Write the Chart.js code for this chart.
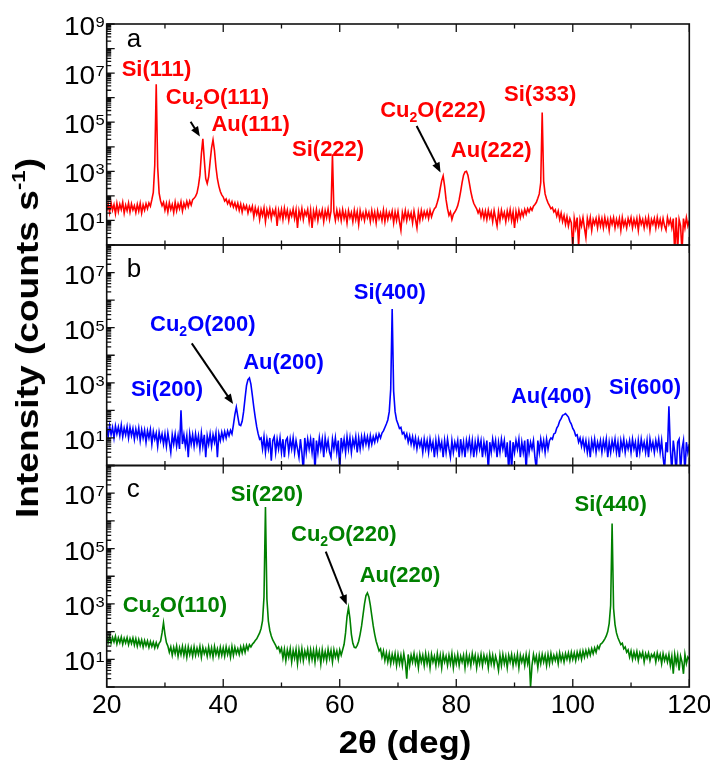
<!DOCTYPE html>
<html lang="en">
<head>
<meta charset="UTF-8">
<title>XRD patterns</title>
<script src="https://cdn.jsdelivr.net/npm/chart.js@4.4.1/dist/chart.umd.min.js"></script>
<style>
  body { margin: 0; background: #fff; width: 710px; height: 762px; position: relative; overflow: hidden;
         font-family: "Liberation Sans", Arial, sans-serif; }
  canvas { position: absolute; left: 0; }
  #ytitle { position: absolute; left: 27px; top: 338px; transform: translate(-50%, -50%) rotate(-90deg) scaleX(1.16);
            font-weight: bold; font-size: 32px; white-space: nowrap; line-height: 1; }
  #ytitle sup { font-size: 60%; vertical-align: 0.7em; line-height: 0; }
  #xtitle { position: absolute; left: 405px; top: 742px; transform: translate(-50%, -50%) scaleX(1.12);
            font-weight: bold; font-size: 31px; white-space: nowrap; line-height: 1; }
</style>
</head>
<body>

<canvas id="panelA" width="710" height="260" style="top:0px"></canvas>
<canvas id="panelB" width="710" height="250" style="top:230px"></canvas>
<canvas id="panelC" width="710" height="311" style="top:451px"></canvas>
<div id="ytitle">Intensity (counts s<sup>-1</sup>)</div>
<div id="xtitle">2θ (deg)</div>

<script>
// 2θ sampling grid, 0.25° steps from 20° to 120°
const twoTheta = Array.from({ length: 401 }, (_, i) => 20 + i * 0.25);

// counts per second, one row = 5°
const intensityA = [
  24, 48, 21, 52, 26, 44, 19, 50, 23, 46, 28, 55, 20, 42, 25, 51, 22, 47, 27, 40,
  21, 45, 24, 50, 20, 43, 26, 48, 30, 52, 38, 70, 140, 1800, 3500000, 1500, 130, 62, 40, 55,
  26, 49, 22, 53, 28, 45, 21, 55, 25, 48, 30, 58, 24, 50, 33, 60, 36, 62, 42, 70,
  80, 95, 130, 260, 700, 5000, 21000, 3000, 500, 320, 600, 2500, 9000, 19000, 7000, 1500, 500, 250, 150, 110,
  90, 62, 75, 48, 66, 40, 58, 35, 52, 30, 50, 26, 46, 22, 42, 28, 40, 20, 36, 24,
  38, 14, 33, 18, 30, 11, 28, 16, 32, 9, 27, 15, 30, 12, 26, 17, 29, 6, 25, 13,
  28, 11, 31, 14, 26, 10, 24, 15, 29, 12, 27, 5, 25, 13, 30, 11, 24, 16, 28, 9,
  26, 5, 24, 12, 28, 10, 23, 14, 27, 9, 25, 13, 29, 11, 24, 4900, 22, 10, 26, 12,
  24, 10, 27, 12, 22, 8, 25, 13, 21, 9, 26, 11, 23, 7, 25, 12, 20, 10, 24, 13,
  21, 9, 25, 11, 22, 8, 24, 12, 20, 10, 26, 9, 23, 11, 21, 13, 24, 8, 22, 10,
  23, 9, 4, 21, 11, 25, 10, 22, 12, 20, 8, 24, 11, 5, 22, 10, 25, 12, 23, 14,
  24, 12, 26, 14, 22, 30, 35, 55, 90, 200, 420, 650, 250, 70, 30, 16, 22, 11, 18, 22,
  28, 40, 70, 150, 350, 700, 950, 1000, 700, 330, 150, 80, 50, 38, 30, 20, 28, 14, 25, 12,
  24, 11, 26, 13, 22, 9, 25, 12, 6, 23, 10, 26, 13, 21, 9, 24, 12, 27, 10, 22,
  5, 23, 11, 26, 13, 24, 15, 28, 18, 30, 22, 33, 26, 38, 45, 55, 80, 120, 350, 250000,
  400, 120, 75, 52, 40, 30, 34, 22, 27, 15, 24, 11, 20, 9, 16, 7, 14, 6, 12, 8,
  0.7, 12, 5, 13, 0.9, 11, 6, 13, 5, 2, 12, 6, 13, 4, 11, 7, 12, 5, 13, 6,
  12, 5, 13, 6, 11, 4, 12, 7, 13, 5, 11, 6, 12, 4, 13, 6, 10, 5, 12, 7,
  13, 5, 11, 6, 12, 4, 13, 7, 11, 5, 12, 6, 13, 4, 11, 7, 12, 5, 13, 6,
  11, 5, 12, 6, 4, 13, 7, 11, 5, 12, 0.5, 13, 0.6, 11, 6, 0.5, 12, 5, 13, 6,
  10
];

const intensityB = [
  26, 11, 28, 13, 24, 10, 27, 14, 25, 12, 29, 11, 23, 13, 26, 10, 24, 12, 22, 9,
  21, 11, 23, 8, 20, 10, 19, 7, 18, 10, 20, 6, 17, 9, 15, 5, 16, 8, 14, 6,
  14, 5, 15, 7, 3, 13, 6, 14, 5, 12, 4, 100, 6, 13, 5, 12, 2, 14, 6, 13,
  5, 14, 6, 12, 4, 15, 5, 13, 2, 12, 6, 14, 5, 13, 7, 15, 2, 14, 8, 16,
  9, 17, 10, 18, 12, 19, 14, 30, 70, 130, 60, 30, 28, 40, 90, 280, 800, 1300, 1500, 900,
  350, 130, 55, 25, 14, 9, 10, 4, 11, 3, 9, 4, 10, 1.5, 8, 11, 3, 9, 4, 10,
  3, 9, 2, 8, 10, 3, 9, 4, 10, 3, 8, 4, 2, 9, 3, 0.6, 10, 3, 9, 4,
  9, 3, 10, 0.6, 8, 3, 10, 4, 9, 2, 10, 4, 8, 3, 2, 9, 4, 10, 3, 8,
  0.7, 10, 4, 9, 3, 11, 4, 10, 3, 9, 5, 11, 3, 10, 4, 11, 5, 12, 6, 11,
  5, 12, 6, 11, 7, 13, 8, 14, 10, 15, 18, 24, 32, 45, 90, 600, 480000, 500, 90, 45,
  32, 22, 24, 14, 16, 10, 14, 7, 12, 6, 11, 5, 10, 4, 9, 5, 8, 3, 9, 4,
  8, 3, 9, 4, 7, 2, 8, 3, 9, 4, 7, 2, 8, 3, 9, 4, 2, 8, 3, 7,
  4, 8, 2, 9, 3, 7, 2, 8, 4, 9, 3, 8, 2, 7, 3, 9, 4, 8, 2, 7,
  3, 8, 0.6, 7, 3, 9, 4, 8, 2, 7, 3, 9, 4, 8, 2, 7, 0.6, 8, 0.7, 7,
  3, 8, 4, 9, 2, 7, 3, 8, 0.6, 9, 3, 7, 4, 8, 2, 0.7, 8, 3, 9, 4,
  8, 3, 9, 4, 8, 10, 9, 14, 15, 23, 28, 41, 50, 66, 70, 76, 66, 57, 40, 32,
  22, 18, 12, 13, 7, 10, 5, 9, 4, 8, 3, 7, 2, 8, 4, 9, 3, 7, 4, 8,
  3, 8, 4, 9, 2, 7, 3, 8, 4, 9, 3, 7, 2, 8, 4, 9, 3, 7, 4, 8,
  3, 9, 4, 7, 2, 8, 3, 9, 4, 7, 3, 8, 2, 9, 4, 7, 3, 8, 4, 9,
  3, 8, 2, 0.7, 7, 3, 140, 4, 0.6, 8, 3, 0.5, 7, 9, 0.6, 4, 8, 0.5, 7, 3,
  6
];

const intensityC = [
  70, 40, 66, 38, 62, 42, 68, 36, 60, 40, 64, 35, 58, 39, 61, 34, 56, 37, 59, 33,
  55, 30, 52, 32, 50, 28, 48, 31, 46, 27, 44, 29, 42, 26, 40, 27, 38, 45, 90, 210,
  80, 40, 30, 18, 28, 14, 27, 16, 30, 13, 26, 15, 29, 14, 27, 12, 28, 15, 26, 13,
  28, 14, 25, 15, 29, 12, 27, 16, 24, 13, 28, 14, 26, 12, 29, 15, 24, 13, 27, 14,
  26, 13, 28, 15, 25, 12, 29, 14, 27, 16, 24, 15, 28, 17, 30, 18, 32, 22, 34, 28,
  35, 40, 48, 55, 70, 90, 130, 250, 1800, 3200000, 1500, 240, 110, 70, 50, 40, 32, 24, 28, 18,
  25, 11, 23, 9, 22, 12, 24, 8, 21, 11, 23, 7, 22, 10, 24, 9, 20, 12, 23, 9,
  22, 10, 21, 8, 23, 11, 20, 7, 22, 10, 19, 9, 23, 11, 21, 8, 22, 12, 20, 10,
  22, 14, 22, 35, 90, 350, 730, 300, 80, 38, 27, 26, 32, 45, 80, 160, 400, 1000, 2000, 2500,
  1800, 900, 380, 160, 80, 45, 30, 20, 24, 12, 20, 9, 17, 8, 16, 7, 15, 8, 16, 6,
  15, 7, 14, 6, 16, 8, 2, 15, 6, 14, 8, 16, 7, 13, 5, 15, 8, 14, 6, 16,
  7, 14, 5, 15, 8, 13, 6, 16, 7, 14, 5, 15, 8, 13, 6, 14, 7, 16, 5, 13,
  7, 15, 6, 13, 8, 14, 5, 15, 7, 13, 6, 16, 8, 14, 5, 13, 7, 15, 6, 14,
  8, 13, 5, 15, 7, 14, 6, 13, 8, 4, 14, 6, 15, 7, 13, 5, 14, 8, 15, 6,
  13, 7, 15, 5, 14, 8, 13, 6, 15, 7, 14, 1, 6, 15, 8, 13, 5, 14, 7, 15,
  8, 14, 6, 15, 7, 16, 8, 14, 9, 15, 7, 17, 9, 15, 8, 16, 10, 17, 9, 18,
  10, 17, 9, 18, 11, 19, 10, 20, 12, 21, 13, 22, 14, 24, 16, 26, 18, 30, 24, 35,
  38, 45, 55, 70, 100, 200, 900, 800000, 700, 180, 90, 60, 45, 34, 38, 24, 28, 18, 22, 12,
  20, 10, 18, 11, 19, 9, 17, 12, 18, 8, 16, 11, 17, 9, 15, 12, 16, 8, 17, 10,
  15, 7, 16, 9, 14, 8, 15, 6, 13, 3, 15, 7, 14, 4, 13, 8, 3, 15, 7, 12,
  10
];

// axis ticks
const xTicks = [20, 30, 40, 50, 60, 70, 80, 90, 100, 110, 120];
const xTickLabels = [20, 40, 60, 80, 100, 120];
const yLabelExpA = [1, 3, 5, 7, 9];
const yLabelExpBC = [1, 3, 5, 7];

// reflection labels ('_' marks a one-character subscript) and arrows, in data coordinates
const peaksA = [
  { text: 'Si(111)', x: 28.55, y: 7.6e6 },
  { text: 'Cu_2O(111)', x: 39.0, y: 5.5e5 },
  { text: 'Au(111)', x: 44.7, y: 4.4e4 },
  { text: 'Si(222)', x: 58.0, y: 4.2e3 },
  { text: 'Cu_2O(222)', x: 76.0, y: 1.6e5 },
  { text: 'Au(222)', x: 86.0, y: 3.8e3 },
  { text: 'Si(333)', x: 94.4, y: 7.3e5 }
];
const arrowsA = [
  { from: [34.4, 1.05e5], to: [36.0, 2.6e4] },
  { from: [73.2, 7.0e4], to: [77.3, 900] }
];
const peaksB = [
  { text: 'Cu_2O(200)', x: 36.5, y: 7.6e4 },
  { text: 'Au(200)', x: 50.35, y: 3.2e3 },
  { text: 'Si(200)', x: 30.35, y: 330 },
  { text: 'Si(400)', x: 68.6, y: 1.1e6 },
  { text: 'Au(400)', x: 96.3, y: 185 },
  { text: 'Si(600)', x: 112.4, y: 390 }
];
const arrowsB = [
  { from: [34.6, 2.7e4], to: [41.7, 170] }
];
const peaksC = [
  { text: 'Cu_2O(110)', x: 31.7, y: 510 },
  { text: 'Si(220)', x: 47.5, y: 5.2e6 },
  { text: 'Cu_2O(220)', x: 60.7, y: 1.9e5 },
  { text: 'Au(220)', x: 70.35, y: 6.2e3 },
  { text: 'Si(440)', x: 106.5, y: 2.3e6 }
];
const arrowsC = [
  { from: [57.6, 7.7e4], to: [61.2, 920] }
];

const FONT = '"Liberation Sans", Arial, sans-serif';

function stretchedText(ctx, text, x, y, sx, align) {
  ctx.save();
  ctx.translate(x, y);
  ctx.scale(sx, 1);
  ctx.textAlign = align;
  ctx.fillText(text, 0, 0);
  ctx.restore();
}

function splitLabel(text) {
  const parts = [];
  for (let i = 0; i < text.length; i++) {
    if (text[i] === '_') {
      parts.push({ s: text[i + 1], sub: true });
      i++;
    } else if (parts.length && !parts[parts.length - 1].sub) {
      parts[parts.length - 1].s += text[i];
    } else {
      parts.push({ s: text[i], sub: false });
    }
  }
  return parts;
}

function drawPeakLabel(ctx, text, cx, baseline, color) {
  const parts = splitLabel(text);
  const mainFont = 'bold 22px ' + FONT;
  const subFont = 'bold 14px ' + FONT;
  let w = 0;
  parts.forEach(p => {
    ctx.font = p.sub ? subFont : mainFont;
    p.w = ctx.measureText(p.s).width;
    w += p.w;
  });
  let x = cx - w / 2;
  ctx.fillStyle = color;
  ctx.textAlign = 'left';
  ctx.textBaseline = 'alphabetic';
  parts.forEach(p => {
    ctx.font = p.sub ? subFont : mainFont;
    ctx.fillText(p.s, x, baseline + (p.sub ? 5 : 0));
    x += p.w;
  });
}

function drawArrow(ctx, x1, y1, x2, y2) {
  const ang = Math.atan2(y2 - y1, x2 - x1);
  const head = 10, half = 4;
  ctx.strokeStyle = '#000';
  ctx.fillStyle = '#000';
  ctx.lineWidth = 2;
  ctx.beginPath();
  ctx.moveTo(x1, y1);
  ctx.lineTo(x2 - head * 0.8 * Math.cos(ang), y2 - head * 0.8 * Math.sin(ang));
  ctx.stroke();
  ctx.beginPath();
  ctx.moveTo(x2, y2);
  ctx.lineTo(x2 - head * Math.cos(ang) + half * Math.sin(ang), y2 - head * Math.sin(ang) - half * Math.cos(ang));
  ctx.lineTo(x2 - head * Math.cos(ang) - half * Math.sin(ang), y2 - head * Math.sin(ang) + half * Math.cos(ang));
  ctx.closePath();
  ctx.fill();
}

// frame, inward ticks, tick labels and reflection annotations
const framePlugin = {
  id: 'frame',
  afterDatasetsDraw(chart, args, opts) {
    const { ctx, chartArea: a, scales: { x, y } } = chart;
    ctx.save();

    // ticks
    ctx.strokeStyle = '#111';
    ctx.lineWidth = 1.3;
    ctx.beginPath();
    xTicks.forEach(v => {
      const px = x.getPixelForValue(v);
      const len = xTickLabels.includes(v) ? 8 : 4.5;
      ctx.moveTo(px, a.bottom); ctx.lineTo(px, a.bottom - len);
      ctx.moveTo(px, a.top); ctx.lineTo(px, a.top + len);
    });
    const maxExp = Math.round(Math.log10(y.max));
    for (let k = 0; k <= maxExp; k++) {
      for (let m = 1; m <= 9; m++) {
        const v = m * Math.pow(10, k);
        if (v > y.max * 1.0001) break;
        const py = y.getPixelForValue(v);
        ctx.moveTo(a.left, py);
        ctx.lineTo(a.left + (m === 1 ? 8 : 4.5), py);
      }
    }
    ctx.stroke();

    // frame
    ctx.strokeStyle = '#111';
    ctx.lineWidth = 1.6;
    ctx.strokeRect(a.left, a.top, a.right - a.left, a.bottom - a.top);

    // y tick labels 10^n
    ctx.fillStyle = '#000';
    ctx.textBaseline = 'alphabetic';
    opts.yLabelExp.forEach(k => {
      const py = y.getPixelForValue(Math.pow(10, k));
      ctx.font = '15px ' + FONT;
      const ew = ctx.measureText(String(k)).width * 1.1;
      stretchedText(ctx, String(k), a.left - 2, py + 3, 1.1, 'right');
      ctx.font = '25px ' + FONT;
      stretchedText(ctx, '10', a.left - 2.5 - ew, py + 11, 1.12, 'right');
    });

    // x tick labels
    if (opts.xLabels) {
      ctx.font = '25px ' + FONT;
      xTickLabels.forEach(v => {
        stretchedText(ctx, String(v), x.getPixelForValue(v), a.bottom + 26, 1.06, 'center');
      });
    }

    // panel letter
    ctx.font = '26px ' + FONT;
    ctx.fillStyle = '#000';
    ctx.textAlign = 'left';
    ctx.fillText(opts.letter, a.left + 20, a.top + opts.letterOffset);

    // reflections
    opts.peaks.forEach(p => {
      drawPeakLabel(ctx, p.text, x.getPixelForValue(p.x), y.getPixelForValue(p.y), opts.color);
    });
    opts.arrows.forEach(r => {
      drawArrow(ctx,
        x.getPixelForValue(r.from[0]), y.getPixelForValue(r.from[1]),
        x.getPixelForValue(r.to[0]), y.getPixelForValue(r.to[1]));
    });

    ctx.restore();
  }
};

function makePanel(id, values, color, yMax, padding, extra) {
  return new Chart(document.getElementById(id), {
    type: 'line',
    data: {
      datasets: [{
        data: twoTheta.map((t, i) => ({ x: t, y: values[i] })),
        borderColor: color,
        borderWidth: 1.6,
        pointRadius: 0,
        tension: 0,
        fill: false
      }]
    },
    options: {
      responsive: false,
      animation: false,
      events: [],
      layout: { padding: padding },
      plugins: {
        legend: { display: false },
        tooltip: { enabled: false },
        frame: Object.assign({ color: color }, extra)
      },
      scales: {
        x: { type: 'linear', min: 20, max: 120, display: false },
        y: { type: 'logarithmic', min: 1, max: yMax, display: false }
      }
    },
    plugins: [framePlugin]
  });
}

makePanel('panelA', intensityA, '#ff0000', 1e9,
  { left: 106.7, right: 20.7, top: 24, bottom: 15 },
  { yLabelExp: yLabelExpA, xLabels: false, letter: 'a', letterOffset: 23, peaks: peaksA, arrows: arrowsA });

makePanel('panelB', intensityB, '#0000ff', 1e8,
  { left: 106.7, right: 20.7, top: 15, bottom: 14.5 },
  { yLabelExp: yLabelExpBC, xLabels: false, letter: 'b', letterOffset: 32, peaks: peaksB, arrows: arrowsB });

makePanel('panelC', intensityC, '#008000', 1e8,
  { left: 106.7, right: 20.7, top: 14.5, bottom: 75 },
  { yLabelExp: yLabelExpBC, xLabels: true, letter: 'c', letterOffset: 31.5, peaks: peaksC, arrows: arrowsC });
</script>
</body>
</html>
